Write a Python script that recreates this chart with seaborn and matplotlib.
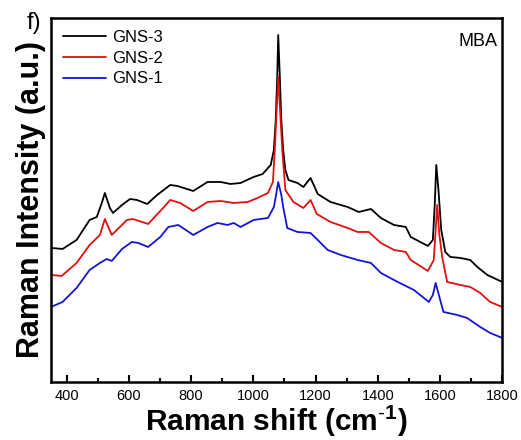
import matplotlib
matplotlib.use("Agg")
import matplotlib.pyplot as plt
from matplotlib.ticker import MultipleLocator
import pandas as pd
import seaborn as sns

# Raman shift (cm-1) and intensity (a.u., stacked offsets) for each sample
gns3_shift = [350, 387, 432, 474, 497, 513, 523, 539, 549, 578, 604, 626, 659, 691,
              733, 756, 807, 853, 895, 927, 959, 1001, 1030, 1050, 1056, 1066, 1072,
              1077, 1080, 1085, 1090, 1096, 1103, 1113, 1142, 1161, 1184, 1207, 1248,
              1303, 1339, 1378, 1410, 1452, 1490, 1506, 1561, 1577, 1583, 1588, 1595,
              1604, 1617, 1633, 1665, 1697, 1720, 1752, 1800]
gns3_int = [134, 133, 142, 162, 165, 179, 189, 174, 169, 177, 183, 182, 178, 187,
            197, 196, 191, 200, 200, 198, 199, 205, 208, 215, 217, 232, 262,
            307, 347, 307, 262, 232, 212, 202, 199, 195, 204, 188, 180,
            175, 170, 173, 164, 157, 155, 145, 136, 142, 177, 217, 192,
            152, 130, 125, 124, 122, 115, 107, 100]

gns2_shift = [350, 384, 432, 474, 507, 523, 545, 594, 613, 662, 710, 733, 765, 807,
              853, 895, 937, 982, 1014, 1047, 1063, 1069, 1075, 1080, 1086, 1093,
              1103, 1129, 1161, 1184, 1204, 1248, 1303, 1335, 1371, 1410, 1452, 1490,
              1506, 1561, 1580, 1586, 1591, 1598, 1607, 1623, 1665, 1697, 1729, 1761,
              1800]
gns2_int = [107, 106, 119, 137, 147, 163, 147, 162, 163, 158, 174, 182, 179, 171,
            180, 181, 179, 180, 184, 189, 200, 232, 272, 305, 272, 232,
            192, 180, 174, 182, 168, 160, 154, 150, 150, 139, 132, 130,
            122, 111, 122, 152, 177, 147, 125, 100, 97, 95, 89, 80,
            75]

gns1_shift = [350, 387, 432, 474, 507, 529, 545, 578, 610, 630, 662, 701, 727, 759,
              807, 853, 885, 917, 937, 959, 1001, 1047, 1066, 1072, 1080, 1090, 1096,
              1109, 1142, 1184, 1207, 1239, 1281, 1335, 1378, 1410, 1464, 1516, 1564,
              1577, 1586, 1598, 1611, 1655, 1687, 1729, 1761, 1800]
gns1_int = [75, 80, 94, 112, 119, 123, 121, 133, 140, 139, 135, 145, 155, 157,
            147, 155, 159, 157, 159, 155, 162, 164, 175, 185, 200, 187, 175,
            154, 150, 149, 142, 132, 127, 122, 119, 109, 100, 92, 80,
            87, 99, 85, 70, 67, 64, 55, 49, 44]

samples = ["GNS-3", "GNS-2", "GNS-1"]
colors = {"GNS-3": "#000000", "GNS-2": "#e01010", "GNS-1": "#1515d0"}

frames = []
for name, xs, ys in [("GNS-3", gns3_shift, gns3_int),
                     ("GNS-2", gns2_shift, gns2_int),
                     ("GNS-1", gns1_shift, gns1_int)]:
    frames.append(pd.DataFrame({"shift": xs, "intensity": ys, "sample": name}))
df = pd.concat(frames, ignore_index=True)

sns.set_style("white")
plt.rcParams["font.family"] = ["Liberation Sans", "DejaVu Sans"]
plt.rcParams["text.color"] = "black"
plt.rcParams["axes.labelcolor"] = "black"
plt.rcParams["xtick.color"] = "black"
plt.rcParams["mathtext.fontset"] = "custom"
plt.rcParams["mathtext.rm"] = "Liberation Sans"
plt.rcParams["mathtext.bf"] = "Liberation Sans:bold"

fig = plt.figure(figsize=(5.21, 4.40), dpi=100)
ax = fig.add_axes([0.098, 0.132, 0.866, 0.827])

sns.lineplot(data=df, x="shift", y="intensity", hue="sample", hue_order=samples,
             palette=colors, sort=False, estimator=None, linewidth=1.3, ax=ax)

ax.set_xlim(350, 1800)
ax.set_ylim(0, 364)
ax.xaxis.set_major_locator(MultipleLocator(200))
ax.xaxis.set_minor_locator(MultipleLocator(100))
ax.tick_params(axis="x", which="major", direction="in", length=5, width=1.5,
               labelsize=10.5, pad=5, bottom=True)
ax.tick_params(axis="x", which="minor", direction="in", length=3, width=1.5,
               bottom=True)
ax.set_yticks([])
for sp in ax.spines.values():
    sp.set_linewidth(1.8)
    sp.set_color("black")

ax.set_xlabel(r"Raman shift (cm$^{\mathbf{\text{-}1}}$)", fontsize=21.5,
              fontweight="bold", labelpad=0)
ax.set_ylabel("Raman Intensity (a.u.)", fontsize=22, fontweight="bold", labelpad=4)

leg = ax.legend(loc="upper left", frameon=False, fontsize=12, handlelength=2.6,
                handletextpad=0.35, labelspacing=0.35, borderaxespad=0.3,
                bbox_to_anchor=(0.0, 1.0))
for line in leg.get_lines():
    line.set_linewidth(1.3)

ax.text(0.99, 0.96, "MBA", transform=ax.transAxes, ha="right", va="top",
        fontsize=13)
fig.text(0.052, 0.972, "f)", ha="left", va="top", fontsize=17)

fig.savefig("out.png", dpi=100)
